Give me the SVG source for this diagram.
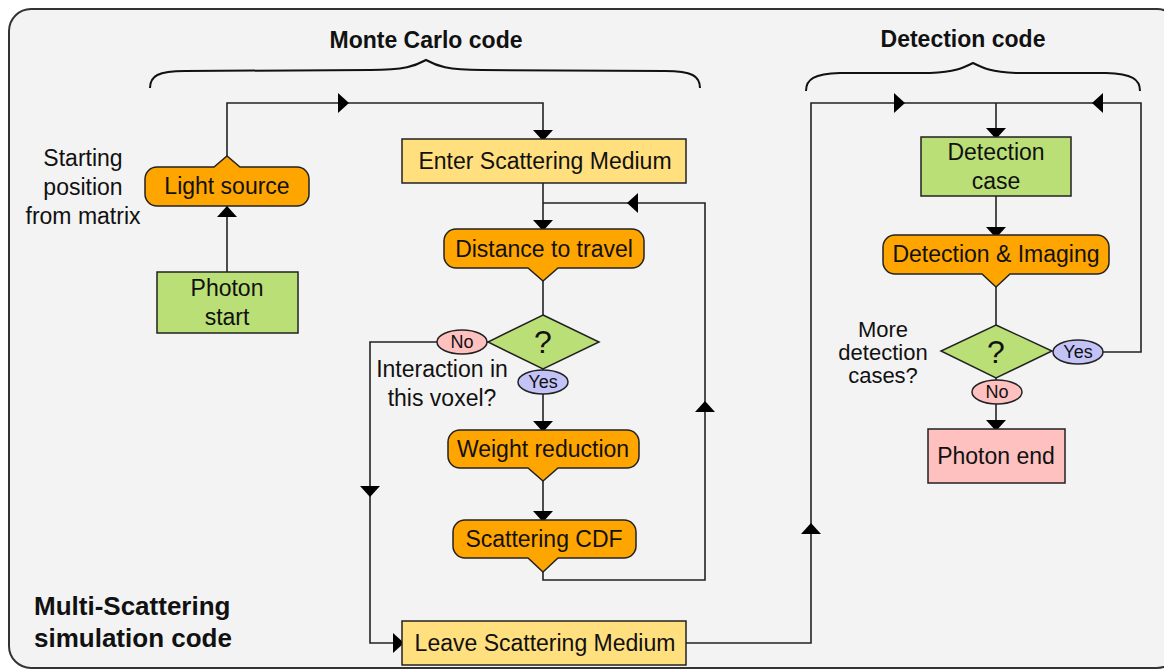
<svg xmlns="http://www.w3.org/2000/svg" xmlns:xlink="http://www.w3.org/1999/xlink" width="1164" height="671" viewBox="0 0 1164 671">
<style>
  text { font-family: "Liberation Sans", Arial, sans-serif; fill: #111; }
  .t { font-size: 23px; text-anchor: middle; }
  .ts { font-size: 22px; text-anchor: middle; }
  .title { font-size: 23px; font-weight: bold; text-anchor: middle; }
  .lab { font-size: 18px; text-anchor: middle; }
  .q { font-size: 32px; text-anchor: middle; }
  .big { font-size: 26px; font-weight: bold; }
  .box { stroke: #222; stroke-width: 1.5; }
  .orange { fill: #ffa500; }
  .yellow { fill: #ffdf7e; }
  .green { fill: #b9df76; }
  .pink { fill: #ffc0c0; }
  .lav { fill: #c3c3f8; }
  .ln { fill: none; stroke: #222; stroke-width: 1.6; }
  .brace { fill: none; stroke: #111; stroke-width: 2; }
</style>
<defs>
  <path id="ah" d="M0,0 L-11,-10 L-11,10 Z" fill="#000"/>
</defs>

<g id="frame">
  <rect x="9" y="9" width="1170" height="659" rx="22" fill="#f3f3f3" stroke="#333" stroke-width="2"/>
</g>

<g id="braces">
  <path class="brace" d="M150,88 C150,76 158,71 185,71 L370,70 C405,70 415,66 426,60 C437,66 447,70 482,70 L665,71 C692,71 700,76 700,88"/>
  <path class="brace" d="M806,91 C806,79 814,74 840,73 L930,73 C955,72 963,68 973,63 C983,68 991,72 1016,73 L1106,73 C1132,74 1140,79 1140,91"/>
  <text class="title" x="426" y="48">Monte Carlo code</text>
  <text class="title" x="963" y="47">Detection code</text>
</g>

<g id="connectors">
  <path class="ln" d="M227,272 V206"/>
  <path class="ln" d="M227,156 V103 H543 V139"/>
  <path class="ln" d="M543,183 V229"/>
  <path class="ln" d="M543,572 V580 H705 V203 H543"/>
  <path class="ln" d="M543,281 V315"/>
  <path class="ln" d="M489,342 H437 M437,342 H370 V643 H402"/>
  <path class="ln" d="M543,368 V430"/>
  <path class="ln" d="M543,481 V520"/>
  <path class="ln" d="M686,643 H811 V103 H1141 V352 H1103"/>
  <path class="ln" d="M996,103 V137"/>
  <path class="ln" d="M996,196 V235"/>
  <path class="ln" d="M996,287 V325"/>
  <path class="ln" d="M996,378 V429"/>
  <use xlink:href="#ah" transform="translate(227,206) rotate(-90)"/>
  <use xlink:href="#ah" transform="translate(349,103)"/>
  <use xlink:href="#ah" transform="translate(543,141) rotate(90)"/>
  <use xlink:href="#ah" transform="translate(543,231) rotate(90)"/>
  <use xlink:href="#ah" transform="translate(627,203) rotate(180)"/>
  <use xlink:href="#ah" transform="translate(705,401) rotate(-90)"/>
  <use xlink:href="#ah" transform="translate(370,497) rotate(90)"/>
  <use xlink:href="#ah" transform="translate(404,643)"/>
  <use xlink:href="#ah" transform="translate(543,432) rotate(90)"/>
  <use xlink:href="#ah" transform="translate(543,522) rotate(90)"/>
  <use xlink:href="#ah" transform="translate(811,523) rotate(-90)"/>
  <use xlink:href="#ah" transform="translate(905,103)"/>
  <use xlink:href="#ah" transform="translate(1092,103) rotate(180)"/>
  <use xlink:href="#ah" transform="translate(996,139) rotate(90)"/>
  <use xlink:href="#ah" transform="translate(996,238) rotate(90)"/>
  <use xlink:href="#ah" transform="translate(996,431) rotate(90)"/>
</g>

<g id="photon-start">
  <rect class="box green" x="157" y="272" width="141" height="61"/>
  <text class="t" x="227" y="296">Photon</text>
  <text class="t" x="227" y="325">start</text>
</g>

<g id="light-source">
  <path class="box orange" d="M157,167 H214 L227,156 L240,167 H297 A12,12 0 0 1 309,179 V194 A12,12 0 0 1 297,206 H157 A12,12 0 0 1 145,194 V179 A12,12 0 0 1 157,167 Z"/>
  <text class="t" x="227" y="194">Light source</text>
</g>

<g id="starting-label">
  <text class="t" x="83" y="166">Starting</text>
  <text class="t" x="83" y="195">position</text>
  <text class="t" x="83" y="224">from matrix</text>
</g>

<g id="enter-medium">
  <rect class="box yellow" x="402" y="139" width="284" height="44"/>
  <text class="t" x="545" y="169">Enter Scattering Medium</text>
</g>

<g id="distance">
  <path class="box orange" d="M456,229 H632 A12,12 0 0 1 644,241 V256 A12,12 0 0 1 632,268 H558 L543,281 L528,268 H456 A12,12 0 0 1 444,256 V241 A12,12 0 0 1 456,229 Z"/>
  <text class="t" x="544" y="257">Distance to travel</text>
</g>

<g id="interaction-decision">
  <polygon class="box green" points="543,315 599,342 543,369 488,342"/>
  <text class="q" x="543" y="353">?</text>
  <text class="t" x="442" y="377">Interaction in</text>
  <text class="t" x="442" y="406">this voxel?</text>
</g>

<g id="no-1">
  <ellipse class="box pink" cx="462" cy="342" rx="25" ry="12"/>
  <text class="lab" x="462" y="348">No</text>
</g>

<g id="yes-1">
  <ellipse class="box lav" cx="543" cy="382" rx="25" ry="12"/>
  <text class="lab" x="543" y="388">Yes</text>
</g>

<g id="weight-reduction">
  <path class="box orange" d="M460,430 H627 A12,12 0 0 1 639,442 V456 A12,12 0 0 1 627,468 H558 L543,481 L528,468 H460 A12,12 0 0 1 448,456 V442 A12,12 0 0 1 460,430 Z"/>
  <text class="t" x="543" y="457">Weight reduction</text>
</g>

<g id="scattering-cdf">
  <path class="box orange" d="M465,520 H624 A12,12 0 0 1 636,532 V546 A12,12 0 0 1 624,558 H558 L543,572 L528,558 H465 A12,12 0 0 1 453,546 V532 A12,12 0 0 1 465,520 Z"/>
  <text class="t" x="544" y="547">Scattering CDF</text>
</g>

<g id="leave-medium">
  <rect class="box yellow" x="402" y="621" width="284" height="44"/>
  <text class="t" x="545" y="651">Leave Scattering Medium</text>
</g>

<g id="detection-case">
  <rect class="box green" x="921" y="137" width="150" height="59"/>
  <text class="t" x="996" y="160">Detection</text>
  <text class="t" x="996" y="189">case</text>
</g>

<g id="detection-imaging">
  <path class="box orange" d="M895,235 H1097 A12,12 0 0 1 1109,247 V262 A12,12 0 0 1 1097,274 H1010 L996,287 L982,274 H895 A12,12 0 0 1 883,262 V247 A12,12 0 0 1 895,235 Z"/>
  <text class="t" x="996" y="262">Detection &amp; Imaging</text>
</g>

<g id="more-cases-decision">
  <polygon class="box green" points="996,325 1052,351 996,378 941,351"/>
  <text class="q" x="996" y="363">?</text>
  <text class="ts" x="883" y="337">More</text>
  <text class="ts" x="883" y="360">detection</text>
  <text class="ts" x="883" y="383">cases?</text>
</g>

<g id="yes-2">
  <ellipse class="box lav" cx="1078" cy="352" rx="25" ry="12"/>
  <text class="lab" x="1078" y="358">Yes</text>
</g>

<g id="no-2">
  <ellipse class="box pink" cx="997" cy="392" rx="25" ry="12"/>
  <text class="lab" x="997" y="398">No</text>
</g>

<g id="photon-end">
  <rect class="box pink" x="928" y="429" width="137" height="54"/>
  <text class="t" x="996" y="464">Photon end</text>
</g>

<g id="multi-label">
  <text class="big" x="34" y="615">Multi-Scattering</text>
  <text class="big" x="34" y="647">simulation code</text>
</g>
</svg>
